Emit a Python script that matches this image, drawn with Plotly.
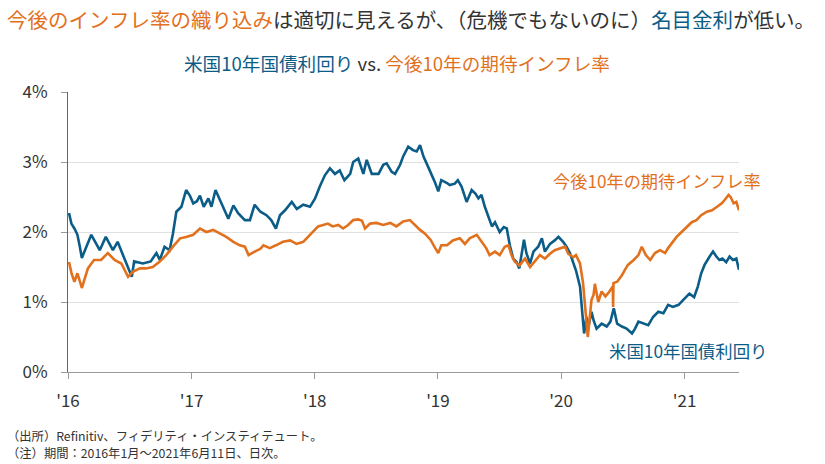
import plotly.graph_objects as go

# ---- data ----
yield_dates = [
    "2016-01-04","2016-01-11","2016-01-20","2016-01-29","2016-02-05","2016-02-11","2016-03-10","2016-04-04",
    "2016-04-22","2016-05-13","2016-05-27","2016-06-17","2016-07-01","2016-07-08","2016-07-15","2016-08-10",
    "2016-09-02","2016-09-19","2016-09-29","2016-10-13","2016-10-28","2016-11-07","2016-11-17","2016-12-02",
    "2016-12-16","2016-12-27",
    "2017-01-06","2017-01-17","2017-01-26","2017-02-06","2017-02-20","2017-03-01","2017-03-13","2017-03-27",
    "2017-04-10","2017-04-20","2017-05-05","2017-05-19","2017-06-08","2017-06-23","2017-07-07","2017-07-24",
    "2017-08-11","2017-08-25","2017-09-08","2017-09-20","2017-10-05","2017-10-25","2017-11-09","2017-11-28",
    "2017-12-18",
    "2018-01-02","2018-01-16","2018-01-31","2018-02-15","2018-03-02","2018-03-16","2018-03-30","2018-04-16",
    "2018-04-25","2018-05-10","2018-05-25","2018-06-04","2018-06-19","2018-07-09","2018-07-23","2018-08-02",
    "2018-08-17","2018-08-27","2018-09-11","2018-09-20","2018-10-05","2018-10-19","2018-10-30","2018-11-09",
    "2018-11-19","2018-12-03","2018-12-13","2018-12-24",
    "2019-01-02","2019-01-11","2019-01-28","2019-02-05","2019-02-20","2019-03-01","2019-03-12","2019-03-27",
    "2019-04-11","2019-04-22","2019-05-01","2019-05-10","2019-05-20","2019-05-30","2019-06-10","2019-06-19",
    "2019-07-03","2019-07-15","2019-07-24","2019-08-02","2019-08-12","2019-08-22","2019-08-30","2019-09-13",
    "2019-09-20","2019-10-01","2019-10-11","2019-10-25","2019-11-05","2019-11-14","2019-11-29","2019-12-13",
    "2019-12-24",
    "2020-01-07","2020-01-17","2020-01-27","2020-02-06","2020-02-14","2020-02-26","2020-03-06","2020-03-09",
    "2020-03-16","2020-03-20","2020-03-31","2020-04-06","2020-04-15","2020-04-30","2020-05-15","2020-05-26",
    "2020-06-05","2020-06-15","2020-06-29","2020-07-13","2020-07-29","2020-08-07","2020-08-17","2020-09-01",
    "2020-09-15","2020-09-30","2020-10-15","2020-10-30","2020-11-13","2020-11-27","2020-12-14","2020-12-28",
    "2021-01-15","2021-01-29","2021-02-09","2021-02-19","2021-03-01","2021-03-16","2021-03-26","2021-04-05",
    "2021-04-14","2021-04-23","2021-05-04","2021-05-14","2021-05-24","2021-06-03","2021-06-11",
]
yield_values = [
    2.27, 2.12, 2.05, 1.96, 1.79, 1.63, 1.96, 1.74,
    1.93, 1.74, 1.86, 1.60, 1.43, 1.36, 1.58, 1.55,
    1.58, 1.70, 1.60, 1.79, 1.74, 1.98, 2.29, 2.36,
    2.60, 2.52,
    2.41, 2.44, 2.52, 2.36, 2.48, 2.36, 2.60, 2.44,
    2.29, 2.19, 2.38, 2.27, 2.17, 2.17, 2.39, 2.29,
    2.24, 2.17, 2.05, 2.24, 2.31, 2.43, 2.33, 2.39,
    2.36,
    2.48, 2.65, 2.81, 2.91, 2.83, 2.88, 2.74, 2.83,
    3.00, 3.05, 2.83, 3.03, 2.83, 2.83, 2.96, 2.98,
    2.86, 2.83, 2.96, 3.08, 3.22, 3.17, 3.15, 3.24,
    3.08, 2.93, 2.83, 2.70,
    2.58, 2.74, 2.70, 2.67, 2.69, 2.74, 2.65, 2.43,
    2.60, 2.55, 2.48, 2.53, 2.36, 2.24, 2.08, 2.14,
    2.00, 2.07, 2.05, 1.81, 1.62, 1.57, 1.48, 1.89,
    1.70, 1.55, 1.72, 1.79, 1.91, 1.72, 1.83, 1.88,
    1.93,
    1.86, 1.79, 1.70, 1.55, 1.45, 1.22, 0.79, 0.55,
    0.79, 0.60, 0.86, 0.74, 0.62, 0.69, 0.65, 0.72,
    0.91, 0.69, 0.65, 0.62, 0.55, 0.62, 0.72, 0.69,
    0.67, 0.79, 0.86, 0.84, 0.96, 0.93, 0.96, 1.03,
    1.12, 1.07, 1.22, 1.41, 1.53, 1.65, 1.72, 1.65,
    1.60, 1.62, 1.57, 1.65, 1.60, 1.62, 1.46,
]

infl_dates = [
    "2016-01-04","2016-01-12","2016-01-20","2016-01-29","2016-02-11","2016-02-29","2016-03-18","2016-04-08",
    "2016-04-28","2016-05-18","2016-06-07","2016-06-27","2016-07-11","2016-08-01","2016-08-19","2016-09-08",
    "2016-09-29","2016-10-18","2016-11-07","2016-11-28","2016-12-16",
    "2017-01-06","2017-01-26","2017-02-14","2017-03-06","2017-03-27","2017-04-14","2017-05-05","2017-05-24",
    "2017-06-08","2017-06-19","2017-07-03","2017-07-24","2017-08-02","2017-08-21","2017-09-08","2017-09-29",
    "2017-10-20","2017-11-08","2017-11-28","2017-12-12","2017-12-27",
    "2018-01-11","2018-01-26","2018-02-09","2018-02-23","2018-03-12","2018-03-26","2018-04-10","2018-04-25",
    "2018-05-10","2018-05-21","2018-05-30","2018-06-14","2018-07-03","2018-07-23","2018-08-13","2018-08-31",
    "2018-09-20","2018-10-10","2018-10-25","2018-11-09","2018-11-23","2018-12-10","2018-12-24",
    "2019-01-02","2019-01-11","2019-01-28","2019-02-14","2019-03-07","2019-03-22","2019-04-05","2019-04-26",
    "2019-05-10","2019-05-24","2019-06-03","2019-06-19","2019-07-03","2019-07-18","2019-07-29","2019-08-07",
    "2019-08-16","2019-08-30","2019-09-16","2019-10-01","2019-10-15","2019-10-30","2019-11-14","2019-11-29",
    "2019-12-13","2019-12-30",
    "2020-01-13","2020-01-22","2020-02-06","2020-02-14","2020-02-26","2020-03-06","2020-03-13","2020-03-18",
    "2020-03-20","2020-03-31","2020-04-06","2020-04-10","2020-04-20","2020-04-30","2020-05-11","2020-05-20",
    "2020-06-02","2020-06-03","2020-06-04","2020-06-15","2020-06-29","2020-07-08","2020-07-17","2020-08-03",
    "2020-08-17","2020-08-27","2020-09-08","2020-09-21","2020-10-05","2020-10-20","2020-11-04","2020-11-13",
    "2020-11-27","2020-12-08","2020-12-23",
    "2021-01-08","2021-01-22","2021-02-05","2021-02-19","2021-03-08","2021-03-23","2021-04-07","2021-04-21",
    "2021-04-30","2021-05-11","2021-05-17","2021-05-26","2021-06-03","2021-06-11",
]
infl_values = [
    1.57, 1.40, 1.29, 1.41, 1.20, 1.48, 1.60, 1.60,
    1.70, 1.60, 1.55, 1.36, 1.43, 1.48, 1.48, 1.50,
    1.58, 1.67, 1.79, 1.91, 1.93,
    1.96, 2.05, 2.00, 2.03, 1.98, 1.93, 1.86, 1.81,
    1.79, 1.67, 1.71, 1.76, 1.81, 1.77, 1.81, 1.86,
    1.88, 1.83, 1.86, 1.93, 2.00,
    2.08, 2.10, 2.12, 2.08, 2.10, 2.05, 2.10, 2.17,
    2.18, 2.16, 2.05, 2.12, 2.13, 2.10, 2.13, 2.08,
    2.15, 2.17, 2.10, 2.03, 1.98, 1.89, 1.77,
    1.70, 1.81, 1.81, 1.88, 1.91, 1.83, 1.91, 1.96,
    1.86, 1.77, 1.67, 1.72, 1.67, 1.79, 1.81, 1.67,
    1.58, 1.52, 1.62, 1.50, 1.58, 1.67, 1.62, 1.69,
    1.74, 1.77,
    1.79, 1.69, 1.64, 1.67, 1.55, 1.27, 0.89, 0.55,
    0.50, 1.03, 1.10, 1.26, 1.00, 1.15, 1.08, 1.13,
    1.22, 0.93, 1.27, 1.29, 1.38, 1.46, 1.53, 1.60,
    1.67, 1.79, 1.67, 1.60, 1.70, 1.74, 1.70, 1.77,
    1.86, 1.93, 2.00,
    2.08, 2.14, 2.17, 2.24, 2.29, 2.31, 2.36, 2.41,
    2.46, 2.53, 2.50, 2.41, 2.43, 2.31,
]

x_tick_vals = ["2016-01-01","2017-01-01","2018-01-01","2019-01-01","2020-01-01","2021-01-01"]
x_tick_text = ["'16","'17","'18","'19","'20","'21"]
y_tick_vals = [0, 1, 2, 3, 4]
y_tick_text = ["0%","1%","2%","3%","4%"]

BLUE = "#0B5D88"
ORANGE = "#E2711E"
DARK = "#333333"
FONT = "Noto Sans CJK JP"

fig = go.Figure()
fig.add_trace(go.Scatter(x=yield_dates, y=yield_values, mode="lines",
                         line=dict(color=BLUE, width=2.6), name="米国10年国債利回り"))
fig.add_trace(go.Scatter(x=infl_dates, y=infl_values, mode="lines",
                         line=dict(color=ORANGE, width=2.6), name="今後10年の期待インフレ率"))

fig.update_layout(
    width=825, height=464,
    margin=dict(l=68, r=86, t=92, b=92),
    paper_bgcolor="white", plot_bgcolor="white",
    showlegend=False,
    font=dict(family=FONT, color=DARK),
)
fig.update_xaxes(
    type="date", range=["2016-01-01", "2021-06-11"],
    tickvals=x_tick_vals, ticktext=x_tick_text,
    ticks="outside", ticklen=6, tickcolor="#999999", tickwidth=1,
    showline=True, linecolor="#999999", linewidth=1,
    showgrid=False, zeroline=False,
    tickfont=dict(size=17, color=DARK, family=FONT),
    ticklabelstandoff=8,
)
fig.update_yaxes(
    range=[0, 4], tickvals=y_tick_vals, ticktext=y_tick_text,
    ticks="outside", ticklen=6, tickcolor="#999999", tickwidth=1,
    showline=True, linecolor="#666666", linewidth=1,
    showgrid=True, gridcolor="#E0E0E0", gridwidth=1, zeroline=False,
    tickfont=dict(size=17, color=DARK, family=FONT),
    ticklabelstandoff=10,
)

title_html = (f'<span style="color:{ORANGE}">今後のインフレ率の織り込み</span>'
              f'<span style="color:{DARK}">は適切に見えるが、（危機でもないのに）</span>'
              f'<span style="color:{BLUE}">名目金利</span>'
              f'<span style="color:{DARK}">が低い。</span>')
sub_html = (f'<span style="color:{BLUE}">米国10年国債利回り</span> vs. '
            f'<span style="color:{ORANGE}">今後10年の期待インフレ率</span>')

fig.add_annotation(text=title_html, xref="paper", yref="paper", x=-0.094, y=1.26,
                   xanchor="left", yanchor="middle", showarrow=False,
                   font=dict(size=20.5, color=DARK, family=FONT))
fig.add_annotation(text=sub_html, xref="paper", yref="paper", x=0.491, y=1.107,
                   xanchor="center", yanchor="middle", showarrow=False,
                   font=dict(size=18.6, color=DARK, family=FONT))
fig.add_annotation(text="今後10年の期待インフレ率", xref="x", yref="y",
                   x="2020-10-10", y=2.73, xanchor="center", yanchor="middle", showarrow=False,
                   font=dict(size=17.2, color=ORANGE, family=FONT))
fig.add_annotation(text="米国10年国債利回り", xref="x", yref="y",
                   x="2021-01-12", y=0.31, xanchor="center", yanchor="middle", showarrow=False,
                   font=dict(size=17.4, color=BLUE, family=FONT))
fig.add_annotation(text="（出所）Refinitiv、フィデリティ・インスティテュート。",
                   xref="paper", yref="paper", x=-0.094, y=-0.229,
                   xanchor="left", yanchor="middle", align="left", showarrow=False,
                   font=dict(size=12.3, color=DARK, family=FONT))
fig.add_annotation(text="（注）期間：2016年1月～2021年6月11日、日次。",
                   xref="paper", yref="paper", x=-0.094, y=-0.289,
                   xanchor="left", yanchor="middle", align="left", showarrow=False,
                   font=dict(size=12.3, color=DARK, family=FONT))

fig.write_html("out.html", config={"displayModeBar": False},
               post_script="document.body.style.margin='0px';")
